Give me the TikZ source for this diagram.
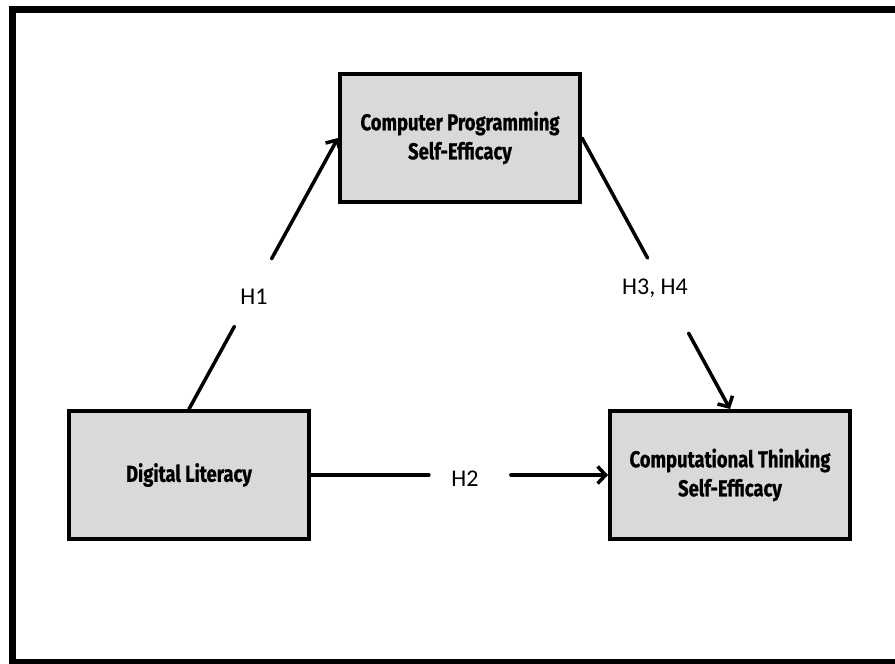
\documentclass[tikz,border=0pt]{standalone}
\usepackage{fontspec}
\setmainfont{Carlito}
\newfontfamily\boxfont[FakeStretch=0.8, BoldFeatures={FakeBold=0.8}]{Fira Sans}
\usetikzlibrary{arrows.meta,calc}
\definecolor{boxgray}{HTML}{D9D9D9}
\tikzset{
  varbox/.style={draw=black, fill=boxgray, line width=4pt, minimum width=240pt,
    minimum height=128pt, align=center, font=\boxfont\bfseries\fontsize{23}{29}\selectfont,
    inner sep=0pt},
  link/.style={line width=3.5pt, line cap=round},
  arrowlink/.style={link, -{Straight Barb[length=8pt,width=17pt,line width=3.5pt]}},
  hlabel/.style={font=\fontsize{24}{28}\selectfont, inner sep=0pt}
}
\begin{document}
\begin{tikzpicture}[x=1pt,y=-1pt]
\clip (0,0) rectangle (895,664);
\useasboundingbox (0,0) rectangle (895,664);
\fill[white] (0,0) rectangle (895,664);
\draw[line width=7pt] (12,9.5) rectangle (905,662.5);
\node[varbox] (cp) at (460,138) {Computer Programming\\Self-Efficacy};
\node[varbox] (dl) at (189,475) {Digital Literacy};
\node[varbox] (ct) at (730,475) {Computational Thinking\\Self-Efficacy};
% H1
\draw[link] (dl.north) -- ($(dl.north)!0.305!(cp.west)$);
\draw[arrowlink] ($(dl.north)!0.554!(cp.west)$) -- (cp.west);
\node[hlabel] (h1) at (254,297) {H1};
% H2
\draw[link] (dl.east) -- ($(dl.east)!0.397!(ct.west)$);
\draw[arrowlink] ($(dl.east)!0.673!(ct.west)$) -- (ct.west);
\node[hlabel] (h2) at (465,479) {H2};
% H3, H4
\draw[link] (cp.east) -- ($(cp.east)!0.443!(ct.north)$);
\draw[arrowlink] ($(cp.east)!0.72!(ct.north)$) -- (ct.north);
\node[hlabel] (h3) at (655,288) {H3, H4};
\end{tikzpicture}
\end{document}
